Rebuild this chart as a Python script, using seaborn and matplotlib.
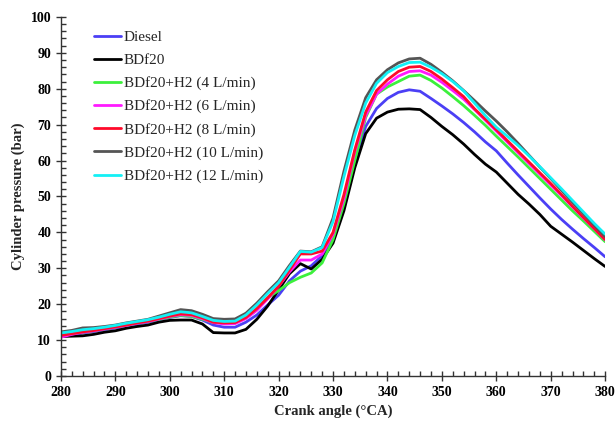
import numpy as np
import pandas as pd
import matplotlib
matplotlib.use("Agg")
import matplotlib.pyplot as plt
import seaborn as sns
from matplotlib.ticker import MultipleLocator

angle = list(range(280, 381, 2))

diesel = [11.0, 11.5, 12.0, 12.4, 12.9, 13.4, 13.9, 14.5, 15.0, 15.6, 16.3, 16.8, 16.6, 15.6, 14.2, 13.6, 13.6, 15.0, 17.0, 19.8,
          22.5, 26.5, 29.2, 30.7, 33.5, 38.5, 48.0, 59.5, 69.5, 74.5, 77.3, 79.0, 79.7, 79.3, 77.3, 75.2, 73.0, 70.6, 68.0, 65.2,
          62.7, 59.3, 56.0, 52.8, 49.6, 46.5, 43.6, 40.9, 38.3, 35.8, 33.2]
bdf20 = [11.0, 11.1, 11.2, 11.6, 12.2, 12.6, 13.3, 13.8, 14.2, 15.0, 15.5, 15.6, 15.6, 14.5, 12.1, 12.0, 12.0, 13.0, 15.8, 19.5,
         24.0, 28.5, 31.3, 29.8, 32.5, 37.0, 46.0, 58.0, 67.5, 71.8, 73.5, 74.3, 74.4, 74.2, 72.0, 69.5, 67.2, 64.6, 61.7, 59.0,
         56.8, 53.7, 50.6, 47.9, 45.0, 41.7, 39.5, 37.3, 35.0, 32.7, 30.5]
h2_4 = [11.3, 11.7, 12.2, 12.6, 13.1, 13.6, 14.1, 14.7, 15.2, 15.8, 16.4, 16.9, 16.6, 15.8, 14.9, 14.8, 14.9, 16.2, 18.5, 21.8,
        23.8, 26.0, 27.5, 28.7, 31.5, 38.0, 48.0, 60.0, 72.0, 78.5, 80.5, 82.0, 83.5, 83.8, 82.3, 80.2, 77.8, 75.3, 72.6, 69.8,
        66.8, 63.9, 61.0, 58.0, 55.0, 52.0, 49.0, 46.0, 43.2, 40.3, 37.4]
h2_6 = [10.8, 11.6, 12.2, 12.6, 13.1, 13.6, 14.1, 14.7, 15.2, 15.9, 16.6, 17.1, 16.9, 16.0, 14.9, 14.5, 14.6, 16.0, 18.3, 21.5,
        25.0, 29.0, 32.3, 32.3, 34.0, 39.5, 49.5, 62.5, 72.5, 78.5, 81.3, 83.5, 84.8, 85.0, 83.8, 81.8, 79.5, 77.1, 74.2, 71.2,
        68.2, 65.2, 62.2, 59.2, 56.2, 53.2, 50.2, 47.1, 44.0, 41.0, 37.9]
h2_8 = [11.3, 11.8, 12.3, 12.7, 13.2, 13.7, 14.2, 14.8, 15.3, 16.0, 16.7, 17.3, 17.1, 16.2, 15.0, 14.8, 14.9, 16.3, 18.8, 21.8,
        25.0, 29.5, 34.0, 34.0, 34.8, 40.0, 50.5, 63.0, 73.5, 79.5, 82.5, 84.8, 86.0, 86.2, 84.8, 82.7, 80.3, 77.8, 74.4, 71.5,
        68.6, 65.6, 62.6, 59.6, 56.6, 53.6, 50.5, 47.3, 44.2, 41.1, 38.0]
h2_10 = [12.3, 12.7, 13.4, 13.5, 13.8, 14.2, 14.8, 15.3, 15.8, 16.7, 17.6, 18.5, 18.2, 17.2, 16.0, 15.8, 15.9, 17.5, 20.3, 23.5,
         26.5, 30.8, 34.8, 34.6, 36.0, 44.0, 57.0, 68.5, 77.5, 82.5, 85.3, 87.2, 88.3, 88.5, 86.8, 84.6, 82.2, 79.5, 76.7, 73.8,
         71.0, 68.0, 64.8, 61.5, 58.2, 55.0, 51.7, 48.4, 45.2, 42.0, 38.8]
h2_12 = [12.0, 12.4, 12.9, 13.2, 13.6, 14.1, 14.7, 15.2, 15.7, 16.4, 17.2, 17.9, 17.6, 16.6, 15.5, 15.2, 15.3, 17.0, 19.8, 23.0,
         26.0, 30.3, 34.7, 34.5, 35.8, 43.0, 55.5, 67.0, 76.0, 81.5, 84.5, 86.2, 87.3, 87.4, 86.0, 84.2, 82.0, 79.4, 76.0, 72.5,
         69.3, 66.8, 64.2, 61.3, 58.3, 55.2, 52.1, 48.9, 45.7, 42.5, 39.5]

labels = ["Diesel", "BDf20", "BDf20+H2 (4 L/min)", "BDf20+H2 (6 L/min)",
          "BDf20+H2 (8 L/min)", "BDf20+H2 (10 L/min)", "BDf20+H2 (12 L/min)"]
colors = ["#4B3FF5", "#000000", "#3CF03C", "#FF1AFF", "#FF0A2A", "#555555", "#14F0F5"]
series = [diesel, bdf20, h2_4, h2_6, h2_8, h2_10, h2_12]

frames = []
for lab, vals in zip(labels, series):
    frames.append(pd.DataFrame({"angle": angle, "pressure": vals, "fuel": lab}))
df = pd.concat(frames, ignore_index=True)

sns.set_theme(style="ticks")
plt.rcParams["font.family"] = ["Liberation Serif", "DejaVu Serif"]

fig = plt.figure(figsize=(6.15, 4.23), dpi=100)
ax = fig.add_axes([0.099, 0.111, 0.885, 0.849])

sns.lineplot(data=df, x="angle", y="pressure", hue="fuel", hue_order=labels,
             palette=dict(zip(labels, colors)), linewidth=2.0, ax=ax, legend=True)

ax.set_xlim(280, 380)
ax.set_ylim(0, 100)
ax.xaxis.set_major_locator(MultipleLocator(10))
ax.xaxis.set_minor_locator(MultipleLocator(2))
ax.yaxis.set_major_locator(MultipleLocator(10))
ax.yaxis.set_minor_locator(MultipleLocator(2))
ax.tick_params(which="major", direction="inout", length=7, width=1, colors="#333333",
               labelsize=10, labelcolor="black")
ax.tick_params(which="minor", direction="in", length=3.5, width=1, colors="#333333")
for t in ax.get_xticklabels() + ax.get_yticklabels():
    t.set_fontweight("bold")
for s in ["top", "right"]:
    ax.spines[s].set_visible(False)
for s in ["left", "bottom"]:
    ax.spines[s].set_color("#333333")
    ax.spines[s].set_linewidth(1)

ax.set_xlabel("Crank angle (°CA)", fontsize=10.5, fontweight="bold", labelpad=4)
ax.set_ylabel("Cylinder pressure (bar)", fontsize=10.5, fontweight="bold", labelpad=4)

h, l = ax.get_legend_handles_labels()
leg = ax.legend(h, l, loc="upper left", bbox_to_anchor=(0.05, 0.98), frameon=False,
                fontsize=11.0, handlelength=1.75, handletextpad=0.2, labelspacing=0.61,
                borderaxespad=0)

fig.savefig("out.png", dpi=100)
